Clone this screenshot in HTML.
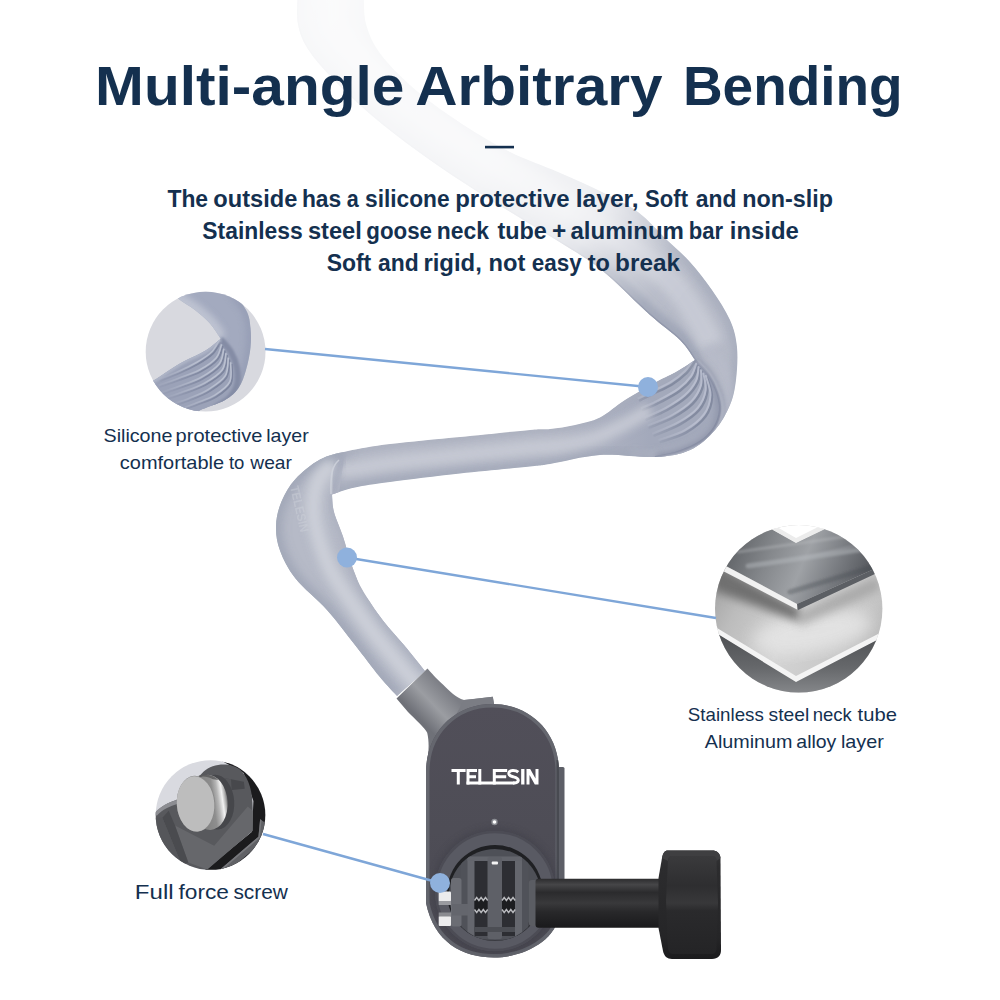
<!DOCTYPE html>
<html><head><meta charset="utf-8"><title>Multi-angle Arbitrary Bending</title>
<style>
html,body{margin:0;padding:0;background:#fff;}
body{width:1000px;height:1000px;overflow:hidden;font-family:"Liberation Sans",sans-serif;}
svg{display:block}
text{font-family:"Liberation Sans",sans-serif;fill:#14304f;}
</style></head><body>
<svg width="1000" height="1000" viewBox="0 0 1000 1000">
<defs>
  <clipPath id="tubeClip"><path d="M364.0,-10.0 C364.3,-4.3 363.0,13.0 366.0,24.0 C369.0,35.0 373.3,44.7 382.0,56.0 C390.7,67.3 404.7,80.7 418.0,92.0 C431.3,103.3 446.7,114.0 462.0,124.0 C477.3,134.0 494.0,144.0 510.0,152.0 C526.0,160.0 542.7,165.3 558.0,172.0 C573.3,178.7 588.7,185.3 602.0,192.0 C615.3,198.7 627.2,204.0 638.0,212.0 C648.8,220.0 658.3,231.7 667.0,240.0 C675.7,248.3 682.5,253.7 690.0,262.0 C697.5,270.3 705.3,280.3 712.0,290.0 C718.7,299.7 725.8,310.5 730.0,320.0 C734.2,329.5 736.0,337.0 737.0,347.0 C738.0,357.0 737.2,370.3 736.0,380.0 C734.8,389.7 733.5,396.7 730.0,405.0 C726.5,413.3 721.7,422.5 715.0,430.0 C708.3,437.5 700.0,445.5 690.0,450.0 C680.0,454.5 670.0,456.2 655.0,457.0 C640.0,457.8 617.5,453.8 600.0,455.0 C582.5,456.2 561.7,462.1 550.0,464.0 C538.3,465.9 545.0,464.9 530.0,466.5 C515.0,468.1 483.3,470.9 460.0,473.5 C436.7,476.1 407.5,479.7 390.0,482.0 C372.5,484.3 364.7,485.4 355.0,487.5 C345.3,489.6 335.8,493.3 332.0,494.5 L332,494.5 C332.3,497.4 332.2,505.0 334.0,512.0 C335.8,519.0 340.1,527.8 343.0,536.5 C345.9,545.2 348.3,555.8 351.5,564.5 C354.7,573.2 356.8,579.7 362.0,589.0 C367.2,598.3 376.0,611.2 383.0,620.5 C390.0,629.8 397.0,636.6 404.0,645.0 C411.0,653.4 421.5,666.7 425.0,671.0 L397,696 C394.1,692.8 386.5,685.0 379.5,676.5 C372.5,668.0 363.8,656.1 355.0,645.0 C346.2,633.9 336.9,621.1 327.0,610.0 C317.1,598.9 303.3,588.4 295.5,578.5 C287.7,568.6 283.2,559.2 280.0,550.5 C276.8,541.8 275.8,534.2 276.0,526.0 C276.2,517.8 278.2,509.3 281.5,501.5 C284.8,493.7 289.1,486.0 295.5,479.0 C301.9,472.0 311.2,464.2 320.0,459.5 C328.8,454.8 336.3,453.6 348.0,451.0 C359.7,448.4 371.3,446.3 390.0,444.0 C408.7,441.7 436.7,439.3 460.0,437.0 C483.3,434.7 515.0,431.3 530.0,430.0 C545.0,428.7 542.5,429.8 550.0,429.0 C557.5,428.2 566.7,426.9 575.0,425.0 C583.3,423.1 591.7,421.7 600.0,417.5 C608.3,413.3 615.8,405.8 625.0,400.0 C634.2,394.2 646.7,387.1 655.0,382.5 C663.3,377.9 668.3,376.2 675.0,372.5 C681.7,368.8 691.7,362.1 695.0,360.0 C692.5,356.7 687.5,347.5 680.0,340.0 C672.5,332.5 662.1,325.8 650.0,315.0 C637.9,304.2 618.8,284.8 607.5,275.0 C596.2,265.2 594.9,264.5 582.0,256.0 C569.1,247.5 547.3,234.7 530.0,224.0 C512.7,213.3 494.7,202.7 478.0,192.0 C461.3,181.3 446.0,171.3 430.0,160.0 C414.0,148.7 396.7,136.0 382.0,124.0 C367.3,112.0 354.0,100.0 342.0,88.0 C330.0,76.0 317.3,62.7 310.0,52.0 C302.7,41.3 300.0,34.3 298.0,24.0 C296.0,13.7 298.0,-4.3 298.0,-10.0 Z"/></clipPath>
  <linearGradient id="fadeG" gradientUnits="userSpaceOnUse" x1="320" y1="0" x2="680" y2="305">
    <stop offset="0" stop-color="#fff" stop-opacity="0.08"/>
    <stop offset="0.5" stop-color="#fff" stop-opacity="0.12"/>
    <stop offset="0.69" stop-color="#fff" stop-opacity="0.2"/>
    <stop offset="0.755" stop-color="#fff" stop-opacity="0.3"/>
    <stop offset="0.845" stop-color="#fff" stop-opacity="0.62"/>
    <stop offset="0.94" stop-color="#fff" stop-opacity="0.95"/>
    <stop offset="1" stop-color="#fff" stop-opacity="1"/>
  </linearGradient>
  <mask id="fadeM" maskUnits="userSpaceOnUse" x="0" y="0" width="1000" height="1000">
    <rect x="0" y="0" width="1000" height="1000" fill="#fff"/>
    <rect x="0" y="0" width="1000" height="320" fill="#000"/>
    <rect x="0" y="0" width="1000" height="320" fill="url(#fadeG)"/>
  </mask>
  <linearGradient id="ribRegG" gradientUnits="userSpaceOnUse" x1="560" y1="0" x2="650" y2="0">
    <stop offset="0" stop-color="#a3a9bb" stop-opacity="0"/><stop offset="1" stop-color="#a3a9bb" stop-opacity="1"/>
  </linearGradient>
  <linearGradient id="ribMG" gradientUnits="userSpaceOnUse" x1="640" y1="436" x2="678" y2="402">
    <stop offset="0" stop-color="#fff" stop-opacity="0"/><stop offset="1" stop-color="#fff" stop-opacity="1"/>
  </linearGradient>
  <mask id="ribM" maskUnits="userSpaceOnUse" x="600" y="340" width="160" height="140"><rect x="600" y="340" width="160" height="140" fill="url(#ribMG)"/></mask>
  <linearGradient id="rib1MG" gradientUnits="userSpaceOnUse" x1="168" y1="392" x2="205" y2="368">
    <stop offset="0" stop-color="#fff" stop-opacity="0.15"/><stop offset="1" stop-color="#fff" stop-opacity="1"/>
  </linearGradient>
  <mask id="rib1M" maskUnits="userSpaceOnUse" x="140" y="285" width="135" height="135"><rect x="140" y="285" width="135" height="135" fill="url(#rib1MG)"/></mask>
  <filter id="b05" x="-20%" y="-20%" width="140%" height="140%"><feGaussianBlur stdDeviation="0.6"/></filter>
  <filter id="b3" x="-20%" y="-20%" width="140%" height="140%"><feGaussianBlur stdDeviation="3"/></filter>
  <filter id="b5" x="-20%" y="-20%" width="140%" height="140%"><feGaussianBlur stdDeviation="5"/></filter>
  <filter id="b8" x="-20%" y="-20%" width="140%" height="140%"><feGaussianBlur stdDeviation="8"/></filter>
  <filter id="b1" x="-20%" y="-20%" width="140%" height="140%"><feGaussianBlur stdDeviation="1"/></filter>
</defs>
<rect width="1000" height="1000" fill="#ffffff"/>

<g mask="url(#fadeM)">
 <g clip-path="url(#tubeClip)">
  <path d="M364.0,-10.0 C364.3,-4.3 363.0,13.0 366.0,24.0 C369.0,35.0 373.3,44.7 382.0,56.0 C390.7,67.3 404.7,80.7 418.0,92.0 C431.3,103.3 446.7,114.0 462.0,124.0 C477.3,134.0 494.0,144.0 510.0,152.0 C526.0,160.0 542.7,165.3 558.0,172.0 C573.3,178.7 588.7,185.3 602.0,192.0 C615.3,198.7 627.2,204.0 638.0,212.0 C648.8,220.0 658.3,231.7 667.0,240.0 C675.7,248.3 682.5,253.7 690.0,262.0 C697.5,270.3 705.3,280.3 712.0,290.0 C718.7,299.7 725.8,310.5 730.0,320.0 C734.2,329.5 736.0,337.0 737.0,347.0 C738.0,357.0 737.2,370.3 736.0,380.0 C734.8,389.7 733.5,396.7 730.0,405.0 C726.5,413.3 721.7,422.5 715.0,430.0 C708.3,437.5 700.0,445.5 690.0,450.0 C680.0,454.5 670.0,456.2 655.0,457.0 C640.0,457.8 617.5,453.8 600.0,455.0 C582.5,456.2 561.7,462.1 550.0,464.0 C538.3,465.9 545.0,464.9 530.0,466.5 C515.0,468.1 483.3,470.9 460.0,473.5 C436.7,476.1 407.5,479.7 390.0,482.0 C372.5,484.3 364.7,485.4 355.0,487.5 C345.3,489.6 335.8,493.3 332.0,494.5 L332,494.5 C332.3,497.4 332.2,505.0 334.0,512.0 C335.8,519.0 340.1,527.8 343.0,536.5 C345.9,545.2 348.3,555.8 351.5,564.5 C354.7,573.2 356.8,579.7 362.0,589.0 C367.2,598.3 376.0,611.2 383.0,620.5 C390.0,629.8 397.0,636.6 404.0,645.0 C411.0,653.4 421.5,666.7 425.0,671.0 L397,696 C394.1,692.8 386.5,685.0 379.5,676.5 C372.5,668.0 363.8,656.1 355.0,645.0 C346.2,633.9 336.9,621.1 327.0,610.0 C317.1,598.9 303.3,588.4 295.5,578.5 C287.7,568.6 283.2,559.2 280.0,550.5 C276.8,541.8 275.8,534.2 276.0,526.0 C276.2,517.8 278.2,509.3 281.5,501.5 C284.8,493.7 289.1,486.0 295.5,479.0 C301.9,472.0 311.2,464.2 320.0,459.5 C328.8,454.8 336.3,453.6 348.0,451.0 C359.7,448.4 371.3,446.3 390.0,444.0 C408.7,441.7 436.7,439.3 460.0,437.0 C483.3,434.7 515.0,431.3 530.0,430.0 C545.0,428.7 542.5,429.8 550.0,429.0 C557.5,428.2 566.7,426.9 575.0,425.0 C583.3,423.1 591.7,421.7 600.0,417.5 C608.3,413.3 615.8,405.8 625.0,400.0 C634.2,394.2 646.7,387.1 655.0,382.5 C663.3,377.9 668.3,376.2 675.0,372.5 C681.7,368.8 691.7,362.1 695.0,360.0 C692.5,356.7 687.5,347.5 680.0,340.0 C672.5,332.5 662.1,325.8 650.0,315.0 C637.9,304.2 618.8,284.8 607.5,275.0 C596.2,265.2 594.9,264.5 582.0,256.0 C569.1,247.5 547.3,234.7 530.0,224.0 C512.7,213.3 494.7,202.7 478.0,192.0 C461.3,181.3 446.0,171.3 430.0,160.0 C414.0,148.7 396.7,136.0 382.0,124.0 C367.3,112.0 354.0,100.0 342.0,88.0 C330.0,76.0 317.3,62.7 310.0,52.0 C302.7,41.3 300.0,34.3 298.0,24.0 C296.0,13.7 298.0,-4.3 298.0,-10.0 Z" fill="#b6bac7"/>
  <!-- upper segment shading -->
  <path d="M364.0,-10.0 C364.3,-4.3 363.0,13.0 366.0,24.0 C369.0,35.0 373.3,44.7 382.0,56.0 C390.7,67.3 404.7,80.7 418.0,92.0 C431.3,103.3 446.7,114.0 462.0,124.0 C477.3,134.0 494.0,144.0 510.0,152.0 C526.0,160.0 542.7,165.3 558.0,172.0 C573.3,178.7 588.7,185.3 602.0,192.0 C615.3,198.7 627.2,204.0 638.0,212.0 C648.8,220.0 658.3,231.7 667.0,240.0 C675.7,248.3 682.5,253.7 690.0,262.0 C697.5,270.3 705.3,280.3 712.0,290.0 C718.7,299.7 725.8,310.5 730.0,320.0 C734.2,329.5 736.0,337.0 737.0,347.0 C738.0,357.0 737.2,370.3 736.0,380.0 C734.8,389.7 733.5,396.7 730.0,405.0 C726.5,413.3 721.7,422.5 715.0,430.0 C708.3,437.5 700.0,445.5 690.0,450.0 C680.0,454.5 660.8,455.8 655.0,457.0" stroke="#a5abbb" stroke-width="12" fill="none" filter="url(#b3)" opacity="0.7"/>
  <path d="M695.0,360.0 C692.5,356.7 687.5,347.5 680.0,340.0 C672.5,332.5 662.1,325.8 650.0,315.0 C637.9,304.2 618.8,284.8 607.5,275.0 C596.2,265.2 594.9,264.5 582.0,256.0 C569.1,247.5 547.3,234.7 530.0,224.0 C512.7,213.3 494.7,202.7 478.0,192.0 C461.3,181.3 446.0,171.3 430.0,160.0 C414.0,148.7 396.7,136.0 382.0,124.0 C367.3,112.0 354.0,100.0 342.0,88.0 C330.0,76.0 317.3,62.7 310.0,52.0 C302.7,41.3 300.0,34.3 298.0,24.0 C296.0,13.7 298.0,-4.3 298.0,-10.0" stroke="#9ea4b6" stroke-width="18" fill="none" filter="url(#b3)" opacity="0.85"/>
  <path d="M334.0,-10.0 C333.9,-5.5 332.4,9.3 333.3,16.8 C334.2,24.3 334.2,27.0 339.6,35.0 C345.0,43.0 355.1,54.2 365.8,64.9 C376.5,75.6 389.8,87.8 403.8,99.2 C417.8,110.7 434.5,123.0 449.8,133.6 C465.1,144.2 479.4,152.8 495.7,163.0 C512.0,173.2 529.8,184.2 547.7,195.0 C565.6,205.8 589.1,219.2 603.0,228.0 C616.9,236.8 619.4,238.4 631.3,248.0 C643.2,257.6 663.3,273.2 674.6,285.4 C685.9,297.6 692.8,311.1 699.0,321.0 C705.2,330.9 709.8,341.0 712.0,345.0" stroke="#c8cbd5" stroke-width="24" fill="none" filter="url(#b5)" opacity="0.95"/>
  <path d="M695.0,360.0 C692.5,356.7 687.5,347.5 680.0,340.0 C672.5,332.5 662.1,325.8 650.0,315.0 C637.9,304.2 618.8,284.8 607.5,275.0 C596.2,265.2 594.9,264.5 582.0,256.0 C569.1,247.5 547.3,234.7 530.0,224.0 C512.7,213.3 494.7,202.7 478.0,192.0 C461.3,181.3 446.0,171.3 430.0,160.0 C414.0,148.7 396.7,136.0 382.0,124.0 C367.3,112.0 354.0,100.0 342.0,88.0 C330.0,76.0 317.3,62.7 310.0,52.0 C302.7,41.3 300.0,34.3 298.0,24.0 C296.0,13.7 298.0,-4.3 298.0,-10.0" stroke="#8e94a8" stroke-width="2.500" fill="none" filter="url(#b05)" opacity="0.8"/>
  <!-- ribbed lower segment near fold -->
  <path d="M695,360 C697.2,362.3 704.3,368.7 708.0,374.0 C711.7,379.3 715.0,386.0 717.0,392.0 C719.0,398.0 720.5,404.0 720.0,410.0 C719.5,416.0 717.3,422.7 714.0,428.0 C710.7,433.3 706.0,438.0 700.0,442.0 C694.0,446.0 685.5,449.5 678.0,452.0 C670.5,454.5 658.8,456.2 655.0,457.0 L600,455 L550,464 L550,429 L575,425 L600,417.5 L625,400 L655,382.5 L675,372.5 Z" fill="url(#ribRegG)"/>
  <path d="M706.0,348.0 C708.7,351.0 718.3,359.0 722.0,366.0 C725.7,373.0 727.7,382.0 728.0,390.0 C728.3,398.0 727.0,406.5 724.0,414.0 C721.0,421.5 716.0,429.3 710.0,435.0 C704.0,440.7 696.3,444.7 688.0,448.0 C679.7,451.3 669.7,453.8 660.0,455.0 C650.3,456.2 635.0,455.0 630.0,455.0" stroke="#b7bbc9" stroke-width="9" fill="none" filter="url(#b3)" opacity="0.9"/>
  <path d="M695.0,360.0 C697.2,362.3 704.3,368.7 708.0,374.0 C711.7,379.3 715.0,386.0 717.0,392.0 C719.0,398.0 720.5,404.0 720.0,410.0 C719.5,416.0 717.3,422.7 714.0,428.0 C710.7,433.3 706.0,438.0 700.0,442.0 C694.0,446.0 685.5,449.5 678.0,452.0 C670.5,454.5 658.8,456.2 655.0,457.0" stroke="#8b92a7" stroke-width="7" fill="none" filter="url(#b3)"/>
  <path d="M695.0,360.0 C697.2,362.3 704.3,368.7 708.0,374.0 C711.7,379.3 715.0,386.0 717.0,392.0 C719.0,398.0 720.5,404.0 720.0,410.0 C719.5,416.0 717.3,422.7 714.0,428.0 C710.7,433.3 706.0,438.0 700.0,442.0 C694.0,446.0 685.5,449.5 678.0,452.0 C670.5,454.5 658.8,456.2 655.0,457.0" stroke="#858ca2" stroke-width="2.200" fill="none" filter="url(#b05)" opacity="0.9"/>
  <path d="M695.0,360.0 C697.2,362.3 704.3,368.7 708.0,374.0 C711.7,379.3 715.0,386.0 717.0,392.0 C719.0,398.0 720.5,404.0 720.0,410.0 C719.5,416.0 717.3,422.7 714.0,428.0 C710.7,433.3 706.0,438.0 700.0,442.0 C694.0,446.0 685.5,449.5 678.0,452.0 C670.5,454.5 658.8,456.2 655.0,457.0" transform="translate(2.500,1)" stroke="#c0c4d0" stroke-width="2" fill="none" filter="url(#b1)" opacity="0.7"/>
  <g mask="url(#ribM)" filter="url(#b05)"><path d="M694.4,362.0 C693.1,363.9 690.1,369.5 686.4,373.2 C682.7,376.9 677.6,380.9 672.0,384.4 C666.4,387.9 658.1,391.3 652.8,394.0 C647.5,396.7 642.1,399.3 640.0,400.4" stroke="#80879d" stroke-width="2.400" fill="none" stroke-linecap="round" opacity="0.9"/><path d="M697.6,366.0 C696.8,368.0 695.7,373.9 692.8,378.0 C689.9,382.1 685.3,386.8 680.0,390.8 C674.7,394.8 666.9,398.8 660.8,402.0 C654.7,405.2 646.1,408.7 643.2,410.0" stroke="#80879d" stroke-width="2.400" fill="none" stroke-linecap="round" opacity="0.9"/><path d="M700.0,369.2 C699.6,371.5 699.9,378.1 697.6,382.8 C695.3,387.5 691.5,392.7 686.4,397.2 C681.3,401.7 673.9,406.3 667.2,410.0 C660.5,413.7 649.9,418.0 646.4,419.6" stroke="#80879d" stroke-width="2.400" fill="none" stroke-linecap="round" opacity="0.9"/><path d="M702.4,372.4 C702.4,374.9 704.0,382.4 702.4,387.6 C700.8,392.8 697.6,398.7 692.8,403.6 C688.0,408.5 680.8,413.2 673.6,417.2 C666.4,421.2 653.6,425.9 649.6,427.6" stroke="#80879d" stroke-width="2.400" fill="none" stroke-linecap="round" opacity="0.9"/><path d="M704.8,375.6 C705.2,378.4 708.1,386.7 707.2,392.4 C706.3,398.1 703.7,404.7 699.2,410.0 C694.7,415.3 687.5,420.1 680.0,424.4 C672.5,428.7 658.7,433.7 654.4,435.6" stroke="#80879d" stroke-width="2.400" fill="none" stroke-linecap="round" opacity="0.9"/><path d="M707.2,378.0 C708.0,381.2 712.3,390.8 712.0,397.2 C711.7,403.6 709.9,410.5 705.6,416.4 C701.3,422.3 693.9,428.1 686.4,432.4 C678.9,436.7 665.1,440.4 660.8,442.0" stroke="#80879d" stroke-width="2.400" fill="none" stroke-linecap="round" opacity="0.9"/><path d="M694.4,362.0 C693.1,363.9 690.1,369.5 686.4,373.2 C682.7,376.9 677.6,380.9 672.0,384.4 C666.4,387.9 658.1,391.3 652.8,394.0 C647.5,396.7 642.1,399.3 640.0,400.4" transform="translate(-1.5,-2.200)" stroke="#bcc1d1" stroke-width="2" fill="none" stroke-linecap="round" opacity="0.85"/><path d="M697.6,366.0 C696.8,368.0 695.7,373.9 692.8,378.0 C689.9,382.1 685.3,386.8 680.0,390.8 C674.7,394.8 666.9,398.8 660.8,402.0 C654.7,405.2 646.1,408.7 643.2,410.0" transform="translate(-1.5,-2.200)" stroke="#bcc1d1" stroke-width="2" fill="none" stroke-linecap="round" opacity="0.85"/><path d="M700.0,369.2 C699.6,371.5 699.9,378.1 697.6,382.8 C695.3,387.5 691.5,392.7 686.4,397.2 C681.3,401.7 673.9,406.3 667.2,410.0 C660.5,413.7 649.9,418.0 646.4,419.6" transform="translate(-1.5,-2.200)" stroke="#bcc1d1" stroke-width="2" fill="none" stroke-linecap="round" opacity="0.85"/><path d="M702.4,372.4 C702.4,374.9 704.0,382.4 702.4,387.6 C700.8,392.8 697.6,398.7 692.8,403.6 C688.0,408.5 680.8,413.2 673.6,417.2 C666.4,421.2 653.6,425.9 649.6,427.6" transform="translate(-1.5,-2.200)" stroke="#bcc1d1" stroke-width="2" fill="none" stroke-linecap="round" opacity="0.85"/><path d="M704.8,375.6 C705.2,378.4 708.1,386.7 707.2,392.4 C706.3,398.1 703.7,404.7 699.2,410.0 C694.7,415.3 687.5,420.1 680.0,424.4 C672.5,428.7 658.7,433.7 654.4,435.6" transform="translate(-1.5,-2.200)" stroke="#bcc1d1" stroke-width="2" fill="none" stroke-linecap="round" opacity="0.85"/><path d="M707.2,378.0 C708.0,381.2 712.3,390.8 712.0,397.2 C711.7,403.6 709.9,410.5 705.6,416.4 C701.3,422.3 693.9,428.1 686.4,432.4 C678.9,436.7 665.1,440.4 660.8,442.0" transform="translate(-1.5,-2.200)" stroke="#bcc1d1" stroke-width="2" fill="none" stroke-linecap="round" opacity="0.85"/></g>
  <!-- horizontal segment shading -->
  <path d="M655.0,457.0 C645.8,456.7 617.5,453.8 600.0,455.0 C582.5,456.2 561.7,462.1 550.0,464.0 C538.3,465.9 545.0,464.9 530.0,466.5 C515.0,468.1 483.3,470.9 460.0,473.5 C436.7,476.1 407.5,479.7 390.0,482.0 C372.5,484.3 364.7,485.4 355.0,487.5 C345.3,489.6 335.8,493.3 332.0,494.5" stroke="#a1a7b8" stroke-width="13" fill="none" filter="url(#b5)" opacity="0.85"/>
  <path d="M348.0,451.0 C355.0,449.8 371.3,446.3 390.0,444.0 C408.7,441.7 436.7,439.3 460.0,437.0 C483.3,434.7 515.0,431.3 530.0,430.0 C545.0,428.7 542.5,429.8 550.0,429.0 C557.5,428.2 566.7,426.9 575.0,425.0 C583.3,423.1 591.7,421.7 600.0,417.5 C608.3,413.3 615.8,405.8 625.0,400.0 C634.2,394.2 646.7,387.1 655.0,382.5 C663.3,377.9 668.3,376.2 675.0,372.5 C681.7,368.8 691.7,362.1 695.0,360.0" stroke="#a8adbc" stroke-width="7" fill="none" filter="url(#b3)" opacity="0.7"/>
  <path d="M326.0,465.0 C330.0,465.7 339.3,469.3 350.0,469.0 C360.7,468.7 371.7,465.3 390.0,463.0 C408.3,460.7 436.7,457.5 460.0,455.0 C483.3,452.5 515.0,449.4 530.0,448.0 C545.0,446.6 542.5,447.3 550.0,446.5 C557.5,445.7 566.7,444.8 575.0,443.0 C583.3,441.2 591.7,439.2 600.0,436.0 C608.3,432.8 616.7,428.3 625.0,424.0 C633.3,419.7 645.8,412.3 650.0,410.0" stroke="#c8cbd5" stroke-width="13" fill="none" filter="url(#b5)" opacity="0.95"/>
  <!-- descending segment shading -->
  <path d="M300,440 L345,452 L338,500 L360,590 L430,670 L395,700 L260,560 L265,480 Z" fill="#b6bac7"/>
  <path d="M397.0,696.0 C394.1,692.8 386.5,685.0 379.5,676.5 C372.5,668.0 363.8,656.1 355.0,645.0 C346.2,633.9 336.9,621.1 327.0,610.0 C317.1,598.9 303.3,588.4 295.5,578.5 C287.7,568.6 283.2,559.2 280.0,550.5 C276.8,541.8 275.8,534.2 276.0,526.0 C276.2,517.8 278.2,509.3 281.5,501.5 C284.8,493.7 289.1,486.0 295.5,479.0 C301.9,472.0 311.2,464.2 320.0,459.5 C328.8,454.8 343.3,452.4 348.0,451.0" stroke="#9ea4b5" stroke-width="12" fill="none" filter="url(#b5)" opacity="0.9"/>
  <path d="M332.0,494.5 C332.3,497.4 332.2,505.0 334.0,512.0 C335.8,519.0 340.1,527.8 343.0,536.5 C345.9,545.2 348.3,555.8 351.5,564.5 C354.7,573.2 356.8,579.7 362.0,589.0 C367.2,598.3 376.0,611.2 383.0,620.5 C390.0,629.8 397.0,636.6 404.0,645.0 C411.0,653.4 421.5,666.7 425.0,671.0" stroke="#a9aebd" stroke-width="6" fill="none" filter="url(#b3)" opacity="0.8"/>
  <path d="M418.0,690.0 C416.8,688.9 415.5,688.5 411.0,683.5 C406.5,678.5 398.0,668.4 391.0,660.0 C384.0,651.6 376.5,642.8 369.0,633.0 C361.5,623.2 352.8,611.0 346.0,601.0 C339.2,591.0 332.8,582.3 328.0,573.0 C323.2,563.7 319.8,553.8 317.0,545.0 C314.2,536.2 312.0,527.8 311.0,520.0 C310.0,512.2 310.0,504.7 311.0,498.0 C312.0,491.3 313.8,485.3 317.0,480.0 C320.2,474.7 327.8,468.3 330.0,466.0" transform="translate(3,-2)" stroke="#cdd0d9" stroke-width="15" fill="none" filter="url(#b5)" opacity="0.95"/>
  <!-- crease where horizontal seg tucks behind -->
  <path d="M340,460 C333,466 331,474 331,494" stroke="#989eb2" stroke-width="5" fill="none" filter="url(#b3)" opacity="0.7" transform="translate(4,0)"/>
  <path d="M339,460 C332,466 330.500,474 331,494" stroke="#d0d3dc" stroke-width="1.600" fill="none" opacity="0.8"/>
  <text transform="translate(290,487) rotate(77)" font-size="12.500" font-weight="700" textLength="47" lengthAdjust="spacingAndGlyphs" style="fill:#d0d3dc" opacity="0.42">TELESIN</text>
 </g>
</g>


<defs>
 <linearGradient id="neckG" gradientUnits="userSpaceOnUse" x1="399" y1="698" x2="428" y2="670">
  <stop offset="0" stop-color="#6f7178"/><stop offset="0.5" stop-color="#9b9da2"/><stop offset="1" stop-color="#7c7e85"/>
 </linearGradient>
 <linearGradient id="bodyG" x1="0" y1="0" x2="0" y2="1">
  <stop offset="0" stop-color="#514f59"/><stop offset="0.5" stop-color="#4e4d56"/><stop offset="1" stop-color="#4a4952"/>
 </linearGradient>
 <linearGradient id="shaftG" x1="0" y1="0" x2="0" y2="1">
  <stop offset="0" stop-color="#2c2c2e"/><stop offset="0.12" stop-color="#464648"/><stop offset="0.28" stop-color="#2b2b2d"/><stop offset="0.5" stop-color="#39393b"/><stop offset="0.68" stop-color="#28282a"/><stop offset="1" stop-color="#1a1a1c"/>
 </linearGradient>
 <linearGradient id="knobG" x1="0" y1="0" x2="0" y2="1">
  <stop offset="0" stop-color="#353537"/><stop offset="0.15" stop-color="#2c2c2e"/><stop offset="0.8" stop-color="#252527"/><stop offset="1" stop-color="#1b1b1d"/>
 </linearGradient>
 <linearGradient id="knobFace" x1="0" y1="0" x2="0" y2="1">
  <stop offset="0" stop-color="#3a3a3c"/><stop offset="0.3" stop-color="#2e2e30"/><stop offset="0.48" stop-color="#38383a"/><stop offset="0.56" stop-color="#2a2a2c"/><stop offset="1" stop-color="#242426"/>
 </linearGradient>
 <radialGradient id="ringG" cx="0.5" cy="0.55" r="0.5">
  <stop offset="0.8" stop-color="#4e5058"/><stop offset="0.92" stop-color="#484a51"/><stop offset="1" stop-color="#3f4148"/>
 </radialGradient>
 <clipPath id="bodyClip"><path d="M426,772 C426,732 455,704 492.5,704 C530,704 559,732 559,772 L559,915 C556,940 524,957.5 494,957.5 C462,957.5 434,942 426,903 Z"/></clipPath>
 <clipPath id="diskClip"><circle cx="495" cy="895" r="46"/></clipPath>
</defs>
<!-- neck connector -->
<path d="M396.500,698.500 L427.500,668.500 C434,676 438,680 443.200,684.800 C449,690.500 456,698 464,700 L472,699.200 L492.800,696.800 L494.400,706 L470,714 L440,760 L426.400,772 C428,755 430,745 427.200,732.800 C425,728 415,719 408,712 Z" fill="url(#neckG)"/>
<path d="M464,700 L492.800,696.800 L494.400,706 L452,722 Z" fill="#7b7d84"/>
<!-- side strip -->
<rect x="557" y="767" width="7.5" height="113" rx="1.5" fill="#5d5f67"/>
<!-- body -->
<path d="M426,772 C426,732 455,704 492.5,704 C530,704 559,732 559,772 L559,915 C556,940 524,957.5 494,957.5 C462,957.5 434,942 426,903 Z" fill="url(#bodyG)"/>
<g clip-path="url(#bodyClip)">
 <path d="M426,772 C426,732 455,704 492.5,704 C530,704 559,732 559,772 L559,915 C556,940 524,957.5 494,957.5 C462,957.5 434,942 426,903 Z" fill="none" stroke="#676971" stroke-width="7" opacity="0.9"/>
 <path d="M559,760 L559,935" stroke="#484a51" stroke-width="5"/>
 <!-- raised ring -->
 <circle cx="495" cy="891" r="63" fill="#3e3e46" filter="url(#b3)" opacity="0.5"/>
 <circle cx="495" cy="891" r="60" fill="#595a63"/>
 <circle cx="495" cy="891" r="59" fill="none" stroke="#4c4c55" stroke-width="2.500"/>
 <path d="M440,905 A57,57 0 0 0 550,905 L559,905 L559,960 L426,960 L426,905 Z" fill="#555760" opacity="0.0"/>
</g>
<!-- TELESIN -->
<g stroke="#fff" stroke-width="3" fill="none" stroke-linejoin="miter">
 <path d="M451.500,770.500 H465.600 M458.300,769 V784.500"/>
 <path d="M468,769 V784.500 M466.500,770.500 H477 M468,776.800 H476"/>
 <path d="M479.800,769 V784.500"/>
 <path d="M494.300,769 V784.500 M492.800,770.500 H507.200 M494.300,776.800 H506.200"/>
 <path d="M466.500,783 H514.500"/>
 <path d="M518.300,772.200 C516.500,770.600 514,770.400 512.500,770.500 C509.500,770.700 508.600,772.300 508.900,774 C509.300,776 511.500,776.400 513.500,776.900 C516.500,777.600 518.600,778.600 518.200,780.800 C517.800,783 515,783.100 513,783"/>
 <path d="M522.800,769 V784.500" stroke-width="3.300"/>
</g>
<path d="M526.500,784.500 V769 H530.200 L535.500,778.600 V769 H538.500 V784.500 H534.800 L529.500,774.900 V784.500 Z" fill="#fff"/>
<circle cx="494.5" cy="822" r="3.2" fill="#8a8c92"/><circle cx="494.5" cy="822" r="1.8" fill="#fff"/>
<!-- inner disk -->
<circle cx="495" cy="893" r="48" fill="#1f2023"/>
<circle cx="495" cy="895" r="46" fill="#4e5057"/>
<g clip-path="url(#diskClip)">
 <path d="M449,895 A46,46 0 0 0 541,895 A46,40 0 0 1 449,895Z" fill="#3a3b41"/>
 <!-- finger frame -->
 <path d="M464,856 L526,856 Q528.5,856 528.5,859 L528.5,928 Q520,940 495,940 Q470,940 461,928 L461,859 Q461,856 464,856Z" fill="#505259"/>
 <rect x="468" y="858" width="54" height="78" rx="2" fill="#2d2e33"/>
 <rect x="467.5" y="858" width="7" height="79" fill="#65676e"/>
 <rect x="515" y="858" width="7" height="79" fill="#65676e"/>
 <rect x="467.5" y="856.5" width="54.5" height="4.5" fill="#63656c"/>
 <rect x="487.5" y="857" width="14.5" height="82" rx="2" fill="#5e6067"/>
 <rect x="474.5" y="927" width="40.500" height="5" fill="#4c4e54"/>
 <rect x="491.700" y="861.5" width="6.3" height="3" rx="1" fill="#f4f4f4"/>
 <!-- threads -->
 <rect x="474.5" y="899" width="13" height="12" fill="#1c1d20"/><rect x="502" y="899" width="13" height="12" fill="#1c1d20"/>
 <g stroke="#b9babe" stroke-width="1.400" fill="none">
  <path d="M474.5,900.5 l2.2,-3 l2.2,3 l2.2,-3 l2.2,3 l2.2,-3 l2.2,3"/><path d="M474.5,909.500 l2.2,3 l2.2,-3 l2.2,3 l2.2,-3 l2.2,3 l2.2,-3"/>
  <path d="M502,900.5 l2.2,-3 l2.2,3 l2.2,-3 l2.2,3 l2.2,-3 l2.2,3"/><path d="M502,909.500 l2.2,3 l2.2,-3 l2.2,3 l2.2,-3 l2.2,3 l2.2,-3"/>
 </g>
</g>
<!-- screw head left -->
<rect x="451" y="878" width="10.5" height="48.500" rx="2.5" fill="#6b6d74"/>
<rect x="452" y="904" width="16" height="11.5" fill="#64666d"/>
<rect x="438.700" y="891.5" width="12.3" height="10" rx="1" fill="#ececed"/>
<rect x="438.700" y="901" width="12.3" height="4" fill="#9a9ba0"/>
<rect x="438.700" y="916" width="12.3" height="10" rx="1" fill="#ececed"/>
<rect x="438.700" y="912.5" width="12.3" height="4" fill="#8a8b90"/>
<!-- bolt -->
<rect x="528.800" y="880" width="9" height="46" rx="3" fill="#5b5d63"/>
<rect x="535.5" y="878.700" width="127" height="49" rx="3" fill="url(#shaftG)"/>
<path d="M668,850.5 L712,850.5 C717,850.5 720,853 720.5,858 L721,950 C721,955.5 718,959 712,959 L672,959 C667,959 664,956 663,951 L658.5,928 L658.5,878 L662,858 C663,853 664.5,850.5 668,850.5 Z" fill="url(#knobG)"/>
<path d="M672,856 L712,856 C715,856 716.500,857.500 716.500,861 L718,903 L716.500,948 C716.500,952 715,954 711,954 L674,954 C670,954 668.500,952 668,948 L666,900 L668,861 C668,857.500 669.500,856 672,856 Z" fill="url(#knobFace)"/>
<path d="M668,850.500 L712,850.500 C717,850.500 720,853 720.500,858 L716.500,861 C716.500,857.500 715,856 712,856 L672,856 C669.500,856 668,857.500 668,861 L662,858 C663,853 664.500,850.500 668,850.500Z" fill="#3f3f41"/>


<defs>
 <clipPath id="c1"><circle cx="205.600" cy="351.700" r="59.900"/></clipPath>
 <clipPath id="c2"><circle cx="798.700" cy="608.800" r="83.700"/></clipPath>
 <clipPath id="c3"><circle cx="210.500" cy="815" r="54.800"/></clipPath>
 <clipPath id="strap1C"><path d="M170.0,288.0 C171.4,289.8 174.3,295.1 178.5,298.8 C182.7,302.4 189.8,305.9 195.0,310.0 C200.2,314.1 205.8,318.8 210.0,323.5 C214.2,328.2 218.8,336.0 220.5,338.5 L220.5,339 C218.0,340.9 211.5,346.8 205.5,350.5 C199.5,354.2 190.5,357.8 184.5,361.0 C178.5,364.2 174.2,367.0 169.5,370.0 C164.8,373.0 160.9,376.0 156.0,379.0 C151.1,382.0 142.7,386.5 140.0,388.0 L140,420 L190,420 L199.5,410.5 C191.6,416.8 193.7,413.5 199.5,410.5 C205.3,407.5 218.5,403.8 225.0,400.0 C231.5,396.2 235.0,393.0 238.5,388.0 C242.0,383.0 244.0,376.8 246.0,370.0 C248.0,363.2 249.8,354.5 250.5,347.5 C251.2,340.5 251.2,334.2 250.5,328.0 C249.8,321.8 249.8,317.2 246.0,310.0 C242.2,302.8 231.0,289.2 228.0,285.0 Z"/></clipPath>
 <linearGradient id="plateG" gradientUnits="userSpaceOnUse" x1="730" y1="540" x2="870" y2="600">
  <stop offset="0" stop-color="#5e6165"/><stop offset="0.28" stop-color="#85888c"/><stop offset="0.5" stop-color="#9fa2a6"/><stop offset="0.72" stop-color="#787b80"/><stop offset="1" stop-color="#484b50"/>
 </linearGradient>
 <linearGradient id="aluG" gradientUnits="userSpaceOnUse" x1="715" y1="570" x2="880" y2="660">
  <stop offset="0" stop-color="#a0a0a0"/><stop offset="0.2" stop-color="#bcbcbc"/><stop offset="0.5" stop-color="#d4d4d4"/><stop offset="0.8" stop-color="#c8c8c8"/><stop offset="1" stop-color="#b6b6b6"/>
 </linearGradient>
 <linearGradient id="botG" gradientUnits="userSpaceOnUse" x1="0" y1="630" x2="0" y2="693">
  <stop offset="0" stop-color="#4c4e51"/><stop offset="0.6" stop-color="#66686b"/><stop offset="1" stop-color="#85878a"/>
 </linearGradient>
 <linearGradient id="screwSide" gradientUnits="userSpaceOnUse" x1="400" y1="420" x2="628" y2="404">
  <stop offset="0" stop-color="#7a7a7a"/><stop offset="0.55" stop-color="#8e8e8e"/><stop offset="0.7" stop-color="#b5b5b5"/><stop offset="0.84" stop-color="#f2f2f2"/><stop offset="0.93" stop-color="#b0b0b0"/><stop offset="1" stop-color="#6c6c6e"/>
 </linearGradient>
</defs>
<!-- circle 1 -->
<g clip-path="url(#c1)">
 <rect x="140" y="285" width="135" height="135" fill="#d8d9df"/>
 <path d="M170.0,288.0 C171.4,289.8 174.3,295.1 178.5,298.8 C182.7,302.4 189.8,305.9 195.0,310.0 C200.2,314.1 205.8,318.8 210.0,323.5 C214.2,328.2 218.8,336.0 220.5,338.5 L220.5,339 C218.0,340.9 211.5,346.8 205.5,350.5 C199.5,354.2 190.5,357.8 184.5,361.0 C178.5,364.2 174.2,367.0 169.5,370.0 C164.8,373.0 160.9,376.0 156.0,379.0 C151.1,382.0 142.7,386.5 140.0,388.0 L140,420 L190,420 L199.5,410.5 C191.6,416.8 193.7,413.5 199.5,410.5 C205.3,407.5 218.5,403.8 225.0,400.0 C231.5,396.2 235.0,393.0 238.5,388.0 C242.0,383.0 244.0,376.8 246.0,370.0 C248.0,363.2 249.8,354.5 250.5,347.5 C251.2,340.5 251.2,334.2 250.5,328.0 C249.8,321.8 249.8,317.2 246.0,310.0 C242.2,302.8 231.0,289.2 228.0,285.0 Z" fill="#a3aabf"/>
 <g clip-path="url(#strap1C)">
  <path d="M170.0,288.0 C171.4,289.8 174.3,295.1 178.5,298.8 C182.7,302.4 189.8,305.9 195.0,310.0 C200.2,314.1 205.8,318.8 210.0,323.5 C214.2,328.2 218.8,336.0 220.5,338.5" stroke="#c0c5d3" stroke-width="14" fill="none" filter="url(#b3)" opacity="0.9"/>
  <path d="M228.0,285.0 C231.0,289.2 242.2,302.8 246.0,310.0 C249.8,317.2 249.8,321.8 250.5,328.0 C251.2,334.2 251.2,340.5 250.5,347.5 C249.8,354.5 248.0,363.2 246.0,370.0 C244.0,376.8 242.0,383.0 238.5,388.0 C235.0,393.0 231.5,396.2 225.0,400.0 C218.5,403.8 205.3,407.5 199.5,410.5 C193.7,413.5 191.6,416.8 190.0,418.0" stroke="#9098b0" stroke-width="10" fill="none" filter="url(#b3)" opacity="0.6"/>
  <path d="M220.5,339 C218.0,340.9 211.5,346.8 205.5,350.5 C199.5,354.2 190.5,357.8 184.5,361.0 C178.5,364.2 174.2,367.0 169.5,370.0 C164.8,373.0 160.9,376.0 156.0,379.0 C151.1,382.0 142.7,386.5 140.0,388.0 L140,420 L214,420 L214,408 C216.5,406.3 225.2,401.8 229.0,398.0 C232.8,394.2 235.7,390.0 237.0,385.0 C238.3,380.0 238.0,373.5 237.0,368.0 C236.0,362.5 233.8,356.8 231.0,352.0 C228.2,347.2 222.2,341.2 220.5,339.0 Z" fill="#9ba2b8"/>
  <path d="M220.5,339.0 C222.2,341.2 228.2,347.2 231.0,352.0 C233.8,356.8 236.0,362.5 237.0,368.0 C238.0,373.5 238.3,380.0 237.0,385.0 C235.7,390.0 232.8,394.2 229.0,398.0 C225.2,401.8 216.5,406.3 214.0,408.0" stroke="#848ca5" stroke-width="6" fill="none" filter="url(#b1)"/>
  <g mask="url(#rib1M)" filter="url(#b05)"><path d="M220.5,341.5 C219.2,343.5 216.8,349.8 213.0,353.5 C209.2,357.2 203.5,360.8 198.0,364.0 C192.5,367.2 186.3,370.2 180.0,373.0 C173.7,375.8 163.3,379.7 160.0,381.0" stroke="#7d859e" stroke-width="1.8" fill="none"/><path d="M220.5,341.5 C219.2,343.5 216.8,349.8 213.0,353.5 C209.2,357.2 203.5,360.8 198.0,364.0 C192.5,367.2 186.3,370.2 180.0,373.0 C173.7,375.8 163.3,379.7 160.0,381.0" transform="translate(-1.2,-1.8)" stroke="#bac0d0" stroke-width="1.600" fill="none"/><path d="M222.8,346.0 C221.9,348.2 221.1,355.2 217.5,359.5 C213.9,363.8 207.5,368.0 201.0,371.5 C194.5,375.0 185.3,377.9 178.5,380.5 C171.7,383.1 163.1,385.9 160.0,387.0" stroke="#7d859e" stroke-width="1.8" fill="none"/><path d="M222.8,346.0 C221.9,348.2 221.1,355.2 217.5,359.5 C213.9,363.8 207.5,368.0 201.0,371.5 C194.5,375.0 185.3,377.9 178.5,380.5 C171.7,383.1 163.1,385.9 160.0,387.0" transform="translate(-1.2,-1.8)" stroke="#bac0d0" stroke-width="1.600" fill="none"/><path d="M225.0,350.5 C224.2,353.0 224.2,360.8 220.5,365.5 C216.8,370.2 209.2,375.2 202.5,379.0 C195.8,382.8 186.6,385.5 180.0,388.0 C173.4,390.5 165.8,393.0 163.0,394.0" stroke="#7d859e" stroke-width="1.8" fill="none"/><path d="M225.0,350.5 C224.2,353.0 224.2,360.8 220.5,365.5 C216.8,370.2 209.2,375.2 202.5,379.0 C195.8,382.8 186.6,385.5 180.0,388.0 C173.4,390.5 165.8,393.0 163.0,394.0" transform="translate(-1.2,-1.8)" stroke="#bac0d0" stroke-width="1.600" fill="none"/><path d="M227.2,355.0 C226.6,357.8 227.1,366.5 223.5,371.5 C219.9,376.5 212.2,381.2 205.5,385.0 C198.8,388.8 189.2,391.7 183.0,394.0 C176.8,396.3 170.5,398.2 168.0,399.0" stroke="#7d859e" stroke-width="1.8" fill="none"/><path d="M227.2,355.0 C226.6,357.8 227.1,366.5 223.5,371.5 C219.9,376.5 212.2,381.2 205.5,385.0 C198.8,388.8 189.2,391.7 183.0,394.0 C176.8,396.3 170.5,398.2 168.0,399.0" transform="translate(-1.2,-1.8)" stroke="#bac0d0" stroke-width="1.600" fill="none"/><path d="M229.5,359.5 C229.0,362.5 229.8,372.2 226.5,377.5 C223.2,382.8 216.0,387.2 210.0,391.0 C204.0,394.8 196.2,397.7 190.5,400.0 C184.8,402.3 178.4,404.2 176.0,405.0" stroke="#7d859e" stroke-width="1.8" fill="none"/><path d="M229.5,359.5 C229.0,362.5 229.8,372.2 226.5,377.5 C223.2,382.8 216.0,387.2 210.0,391.0 C204.0,394.8 196.2,397.7 190.5,400.0 C184.8,402.3 178.4,404.2 176.0,405.0" transform="translate(-1.2,-1.8)" stroke="#bac0d0" stroke-width="1.600" fill="none"/><path d="M231.8,364.0 C231.6,367.2 233.6,378.0 231.0,383.5 C228.4,389.0 221.5,393.5 216.0,397.0 C210.5,400.5 203.0,402.5 198.0,404.5 C193.0,406.5 188.0,408.2 186.0,409.0" stroke="#7d859e" stroke-width="1.8" fill="none"/><path d="M231.8,364.0 C231.6,367.2 233.6,378.0 231.0,383.5 C228.4,389.0 221.5,393.5 216.0,397.0 C210.5,400.5 203.0,402.5 198.0,404.5 C193.0,406.5 188.0,408.2 186.0,409.0" transform="translate(-1.2,-1.8)" stroke="#bac0d0" stroke-width="1.600" fill="none"/></g>
  <path d="M220.5,339.0 C218.0,340.9 211.5,346.8 205.5,350.5 C199.5,354.2 190.5,357.8 184.5,361.0 C178.5,364.2 174.2,367.0 169.5,370.0 C164.8,373.0 160.9,376.0 156.0,379.0 C151.1,382.0 142.7,386.5 140.0,388.0" stroke="#b3b9ca" stroke-width="5" fill="none" filter="url(#b1)" opacity="0.8"/>
 </g>
</g>
<!-- circle 2 -->
<g clip-path="url(#c2)">
 <rect x="710" y="520" width="180" height="180" fill="url(#aluG)"/>
 <ellipse cx="812" cy="632" rx="60" ry="20" fill="#e4e4e4" filter="url(#b8)" opacity="0.9" transform="rotate(-10 812 632)"/>
 <!-- shadow under plate's left edge -->
 <path d="M712,562 L800,609 L800,622 L712,590 Z" fill="#6f6f6f" filter="url(#b5)" opacity="1"/>
 <path d="M800,612 L880,575 L880,590 L800,626 Z" fill="#9a9a9a" filter="url(#b5)" opacity="0.7"/>
 <!-- bottom dark -->
 <path d="M700,620 L717,633 L796,681 L878,639 L900,628 L900,700 L700,700 Z" fill="url(#botG)"/>
 <!-- alu bevel -->
 <path d="M700,618 L717,628 L796,676 L878,634 L900,623 L900,628.500 L878,639.500 L796,682 L717,633.500 L700,624 Z" fill="#f4f4f4"/>
 <!-- top plate -->
 <path d="M724,565 L797,604 L874,569 L900,557 L900,500 L826,528 L796,542 L770,528 L700,500 L700,553 Z" fill="url(#plateG)"/>
 <g stroke-linecap="round" fill="none" filter="url(#b1)">
  <path d="M748,566 L872,548" stroke="#b9bcc0" stroke-width="5" opacity="0.45"/>
  <path d="M738,552 L850,536" stroke="#c0c3c7" stroke-width="3" opacity="0.35"/>
  <path d="M790,592 L876,566" stroke="#45484c" stroke-width="5" opacity="0.35"/>
  <path d="M800,558 L880,540" stroke="#b0b3b7" stroke-width="2" opacity="0.35"/>
 </g>
 <!-- plate bevels -->
 <path d="M700,553 L724,565 L797,604 L797,609.500 L722,570.500 L700,559 Z" fill="#f1f1f1"/>
 <path d="M797,604 L874,569 L900,557 L900,561 L876,573.500 L798,610 Z" fill="#5c5f64"/>
 <path d="M872,566 L900,553 L900,561 L876,573 Z" fill="#33363a"/>
 <!-- V notch white -->
 <path d="M760,515 L770,528 L796,542.500 L826,528 L840,515 Z" fill="#fff"/>
 <path d="M768,526 L772,529.500 L796,543 L824,529.500 L828,526 L826,523 L796,538 L770,523 Z" fill="#ececec"/>
</g>
<!-- circle 3 -->
<g clip-path="url(#c3)">
 <g transform="translate(140,745) scale(0.14)">
  <rect x="80" y="80" width="850" height="850" fill="#d9dae0"/>
  <!-- black right band -->
  <path d="M560,100 L950,100 L950,950 L380,950 L480,880 L800,620 L810,400 L740,200 Z" fill="#1b1b1d"/>
  <!-- grey strip in band -->
  <path d="M858,530 L846,655 L519,935 L548,970 L876,690 L902,560 Z" fill="#606165"/>
  <path d="M858,530 L846,655 L519,935 L527,944 L856,662 L868,535 Z" fill="#77787c"/>
  <!-- bracket -->
  <path d="M455,190 C520,130 650,120 720,180 C780,240 805,340 805,450 L805,610 L480,890 L60,900 L60,500 L115,478 C150,440 200,410 260,392 Z" fill="#58595d"/>
  <!-- left arm highlight edge -->
  <path d="M100,490 C140,440 200,410 262,392 L270,420 C215,436 160,462 120,505 Z" fill="#8c8d92"/>
  <!-- lighter lower face -->
  <path d="M250,575 L530,720 L770,440 L805,470 L805,612 L480,890 L345,840 Z" fill="#66676b"/>
  <path d="M205,470 L250,575 L345,840 L300,860 L160,520 Z" fill="#4a4b4f"/>
  <path d="M100,520 L160,520 L300,860 L200,900 L60,900 Z" fill="#55565a"/>
  <!-- pin -->
  <path d="M585,262 L612,240 L650,245 L742,262 L748,312 L655,322 L612,322 L588,298 Z" fill="#47484c"/>
  <path d="M585,262 L612,240 L650,245 L655,322 L612,322 L588,298 Z" fill="#55565a"/>
  <!-- dark ring behind screw -->
  <ellipse cx="545" cy="408" rx="128" ry="196" fill="#46474b" transform="rotate(-4 545 408)"/>
  <!-- screw side -->
  <ellipse cx="492" cy="410" rx="134" ry="197" fill="url(#screwSide)" transform="rotate(-4 492 410)"/>
  <path d="M420,218 C470,205 530,215 560,250 L520,245 C490,225 450,222 420,228 Z" fill="#5a5a5c" opacity="0.85"/>
  <!-- screw face -->
  <ellipse cx="400" cy="420" rx="137" ry="200" fill="#8a8a8a" transform="rotate(-4 400 420)"/>
  <ellipse cx="397" cy="421" rx="134" ry="198" fill="#bdbdbd" transform="rotate(-4 397 421)"/>
 </g>
</g>


<g stroke="#7ea6d8" stroke-width="2.400" fill="none">
 <line x1="265" y1="349" x2="648" y2="387"/>
 <line x1="347" y1="557.5" x2="716" y2="618"/>
 <line x1="263" y1="834" x2="440" y2="883"/>
</g>
<circle cx="648" cy="387" r="10" fill="#8fb1dd"/>
<circle cx="347" cy="557.5" r="10" fill="#8fb1dd"/>
<circle cx="440" cy="883" r="10" fill="#8fb1dd"/>

<rect x="485" y="145.800" width="29" height="2.600" fill="#14304f"/>
<text x="95.08" y="104.5" font-size="56" font-weight="700" textLength="309.32" lengthAdjust="spacingAndGlyphs">Multi-angle</text>
<text x="415.34" y="104.5" font-size="56" font-weight="700" textLength="247.17" lengthAdjust="spacingAndGlyphs">Arbitrary</text>
<text x="682.92" y="104.5" font-size="56" font-weight="700" textLength="219.75" lengthAdjust="spacingAndGlyphs">Bending</text>
<text x="167.44" y="207" font-size="23.5" font-weight="700" textLength="40.64" lengthAdjust="spacingAndGlyphs">The</text>
<text x="213.38" y="207" font-size="23.5" font-weight="700" textLength="83.93" lengthAdjust="spacingAndGlyphs">outside</text>
<text x="301.91" y="207" font-size="23.5" font-weight="700" textLength="39.33" lengthAdjust="spacingAndGlyphs">has</text>
<text x="346.67" y="207" font-size="23.5" font-weight="700" textLength="11.99" lengthAdjust="spacingAndGlyphs">a</text>
<text x="365.00" y="207" font-size="23.5" font-weight="700" textLength="84.57" lengthAdjust="spacingAndGlyphs">silicone</text>
<text x="455.22" y="207" font-size="23.5" font-weight="700" textLength="114.34" lengthAdjust="spacingAndGlyphs">protective</text>
<text x="575.78" y="207" font-size="23.5" font-weight="700" textLength="62.86" lengthAdjust="spacingAndGlyphs">layer,</text>
<text x="645.11" y="207" font-size="23.5" font-weight="700" textLength="42.91" lengthAdjust="spacingAndGlyphs">Soft</text>
<text x="695.83" y="207" font-size="23.5" font-weight="700" textLength="40.68" lengthAdjust="spacingAndGlyphs">and</text>
<text x="742.21" y="207" font-size="23.5" font-weight="700" textLength="90.75" lengthAdjust="spacingAndGlyphs">non-slip</text>
<text x="202.34" y="239" font-size="23.5" font-weight="700" textLength="100.35" lengthAdjust="spacingAndGlyphs">Stainless</text>
<text x="307.92" y="239" font-size="23.5" font-weight="700" textLength="53.96" lengthAdjust="spacingAndGlyphs">steel</text>
<text x="366.28" y="239" font-size="23.5" font-weight="700" textLength="65.73" lengthAdjust="spacingAndGlyphs">goose</text>
<text x="436.74" y="239" font-size="23.5" font-weight="700" textLength="52.24" lengthAdjust="spacingAndGlyphs">neck</text>
<text x="497.41" y="239" font-size="23.5" font-weight="700" textLength="49.39" lengthAdjust="spacingAndGlyphs">tube</text>
<text x="551.97" y="239" font-size="23.5" font-weight="700" textLength="14.27" lengthAdjust="spacingAndGlyphs">+</text>
<text x="570.50" y="239" font-size="23.5" font-weight="700" textLength="113.49" lengthAdjust="spacingAndGlyphs">aluminum</text>
<text x="688.75" y="239" font-size="23.5" font-weight="700" textLength="34.34" lengthAdjust="spacingAndGlyphs">bar</text>
<text x="729.83" y="239" font-size="23.5" font-weight="700" textLength="68.98" lengthAdjust="spacingAndGlyphs">inside</text>
<text x="326.64" y="271" font-size="23.5" font-weight="700" textLength="44.64" lengthAdjust="spacingAndGlyphs">Soft</text>
<text x="378.08" y="271" font-size="23.5" font-weight="700" textLength="40.68" lengthAdjust="spacingAndGlyphs">and</text>
<text x="423.42" y="271" font-size="23.5" font-weight="700" textLength="58.42" lengthAdjust="spacingAndGlyphs">rigid,</text>
<text x="488.44" y="271" font-size="23.5" font-weight="700" textLength="36.85" lengthAdjust="spacingAndGlyphs">not</text>
<text x="531.82" y="271" font-size="23.5" font-weight="700" textLength="50.00" lengthAdjust="spacingAndGlyphs">easy</text>
<text x="587.71" y="271" font-size="23.5" font-weight="700" textLength="22.21" lengthAdjust="spacingAndGlyphs">to</text>
<text x="615.10" y="271" font-size="23.5" font-weight="700" textLength="64.88" lengthAdjust="spacingAndGlyphs">break</text>
<text x="103.51" y="442" font-size="18.4" textLength="68.97" lengthAdjust="spacingAndGlyphs">Silicone</text>
<text x="175.61" y="442" font-size="18.4" textLength="86.88" lengthAdjust="spacingAndGlyphs">protective</text>
<text x="266.28" y="442" font-size="18.4" textLength="42.44" lengthAdjust="spacingAndGlyphs">layer</text>
<text x="119.85" y="468.5" font-size="18.4" textLength="104.23" lengthAdjust="spacingAndGlyphs">comfortable</text>
<text x="228.92" y="468.5" font-size="18.4" textLength="15.46" lengthAdjust="spacingAndGlyphs">to</text>
<text x="250.33" y="468.5" font-size="18.4" textLength="41.59" lengthAdjust="spacingAndGlyphs">wear</text>
<text x="687.85" y="721.2" font-size="18.4" textLength="75.93" lengthAdjust="spacingAndGlyphs">Stainless</text>
<text x="768.56" y="721.2" font-size="18.4" textLength="40.73" lengthAdjust="spacingAndGlyphs">steel</text>
<text x="812.77" y="721.2" font-size="18.4" textLength="39.10" lengthAdjust="spacingAndGlyphs">neck</text>
<text x="857.59" y="721.2" font-size="18.4" textLength="39.30" lengthAdjust="spacingAndGlyphs">tube</text>
<text x="704.76" y="748.3" font-size="18.4" textLength="87.74" lengthAdjust="spacingAndGlyphs">Aluminum</text>
<text x="796.37" y="748.3" font-size="18.4" textLength="39.96" lengthAdjust="spacingAndGlyphs">alloy</text>
<text x="840.96" y="748.3" font-size="18.4" textLength="42.96" lengthAdjust="spacingAndGlyphs">layer</text>
<text x="134.83" y="898.8" font-size="20.5" textLength="38.78" lengthAdjust="spacingAndGlyphs">Full</text>
<text x="178.48" y="898.8" font-size="20.5" textLength="50.53" lengthAdjust="spacingAndGlyphs">force</text>
<text x="233.42" y="898.8" font-size="20.5" textLength="54.53" lengthAdjust="spacingAndGlyphs">screw</text>

</svg>
</body></html>
